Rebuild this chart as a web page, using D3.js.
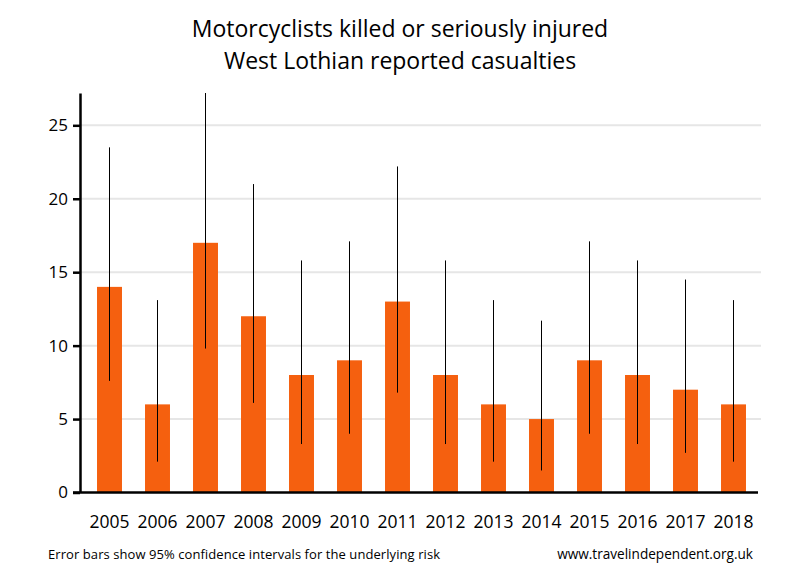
<!DOCTYPE html>
<html>
<head>
<meta charset="utf-8">
<script src="https://cdn.jsdelivr.net/npm/d3@7"></script>
<style>
  body { margin: 0; background: #fff; }
  text { font-family: "Open Sans", "Noto Sans", sans-serif; fill: #000; }
</style>
</head>
<body>
<div id="chart"></div>
<script>
// Casualties per year, with 95% confidence limits
var years = ["2005", "2006", "2007", "2008", "2009", "2010", "2011", "2012", "2013", "2014", "2015", "2016", "2017", "2018"];
var casualties = [14, 6, 17, 12, 8, 9, 13, 8, 6, 5, 9, 8, 7, 6];
var lower = [7.6, 2.1, 9.8, 6.1, 3.3, 4.0, 6.8, 3.3, 2.1, 1.5, 4.0, 3.3, 2.7, 2.1];
var upper = [23.5, 13.1, 27.2, 21.0, 15.8, 17.1, 22.2, 15.8, 13.1, 11.7, 17.1, 15.8, 14.5, 13.1];
var yTicks = [0, 5, 10, 15, 20, 25];

var width = 800, height = 580;

var svg = d3.select('#chart').append('svg')
	.attr('width', width)
	.attr('height', height);

// Scales
var x = d3.scaleBand()
	.domain(years)
	.range([85.5, 757.5])
	.paddingInner(0.48)
	.paddingOuter(0.24);
var y = d3.scaleLinear()
	.domain([0, 27.2])
	.range([492.5, 93]);

// Gridlines
svg.append('g')
	.selectAll('line')
	.data(yTicks.slice(1))
	.enter().append('line')
	.attr('x1', 80).attr('x2', 761)
	.attr('y1', function(d) { return y(d); })
	.attr('y2', function(d) { return y(d); })
	.attr('stroke', '#e6e6e6')
	.attr('stroke-width', 2);

// Bars
svg.append('g')
	.selectAll('rect')
	.data(casualties)
	.enter().append('rect')
	.attr('x', function(d, i) { return x(years[i]); })
	.attr('width', x.bandwidth())
	.attr('y', function(d) { return y(d); })
	.attr('height', function(d) { return y(0) - y(d); })
	.attr('fill', '#f5600f');

// Error bars
svg.append('g')
	.selectAll('line')
	.data(years)
	.enter().append('line')
	.attr('x1', function(d) { return x(d) + x.bandwidth() / 2; })
	.attr('x2', function(d) { return x(d) + x.bandwidth() / 2; })
	.attr('y1', function(d, i) { return y(lower[i]); })
	.attr('y2', function(d, i) { return y(upper[i]); })
	.attr('stroke', '#000')
	.attr('stroke-width', 1);

// Y axis
var yAxis = svg.append('g')
	.attr('transform', 'translate(80,0)')
	.call(d3.axisLeft(y).tickValues(yTicks).tickSize(7).tickSizeOuter(0));
yAxis.select('.domain').attr('stroke-width', 2.5);
yAxis.selectAll('.tick line').attr('stroke-width', 2.5);
yAxis.selectAll('.tick text')
	.attr('x', -12)
	.style('font-size', '17px')
	.style('font-family', '"Open Sans", sans-serif');

// X axis line
svg.append('line')
	.attr('x1', 73).attr('x2', 758)
	.attr('y1', y(0)).attr('y2', y(0))
	.attr('stroke', '#000')
	.attr('stroke-width', 2.5);

// Year labels
svg.append('g')
	.selectAll('text')
	.data(years)
	.enter().append('text')
	.attr('x', function(d) { return x(d) + x.bandwidth() / 2; })
	.attr('y', 528)
	.attr('text-anchor', 'middle')
	.style('font-size', '17.5px')
	.text(function(d) { return d; });

// Title
svg.append('text')
	.attr('x', 400).attr('y', 37)
	.attr('text-anchor', 'middle')
	.style('font-size', '23px')
	.text('Motorcyclists killed or seriously injured');
svg.append('text')
	.attr('x', 400).attr('y', 69)
	.attr('text-anchor', 'middle')
	.style('font-size', '23px')
	.text('West Lothian reported casualties');

// Footer notes
svg.append('text')
	.attr('x', 48).attr('y', 559)
	.style('font-size', '13px')
	.attr('textLength', 392)
	.text('Error bars show 95% confidence intervals for the underlying risk');
svg.append('text')
	.attr('x', 753).attr('y', 559)
	.attr('text-anchor', 'end')
	.style('font-size', '13.6px')
	.text('www.travelindependent.org.uk');
</script>
</body>
</html>
